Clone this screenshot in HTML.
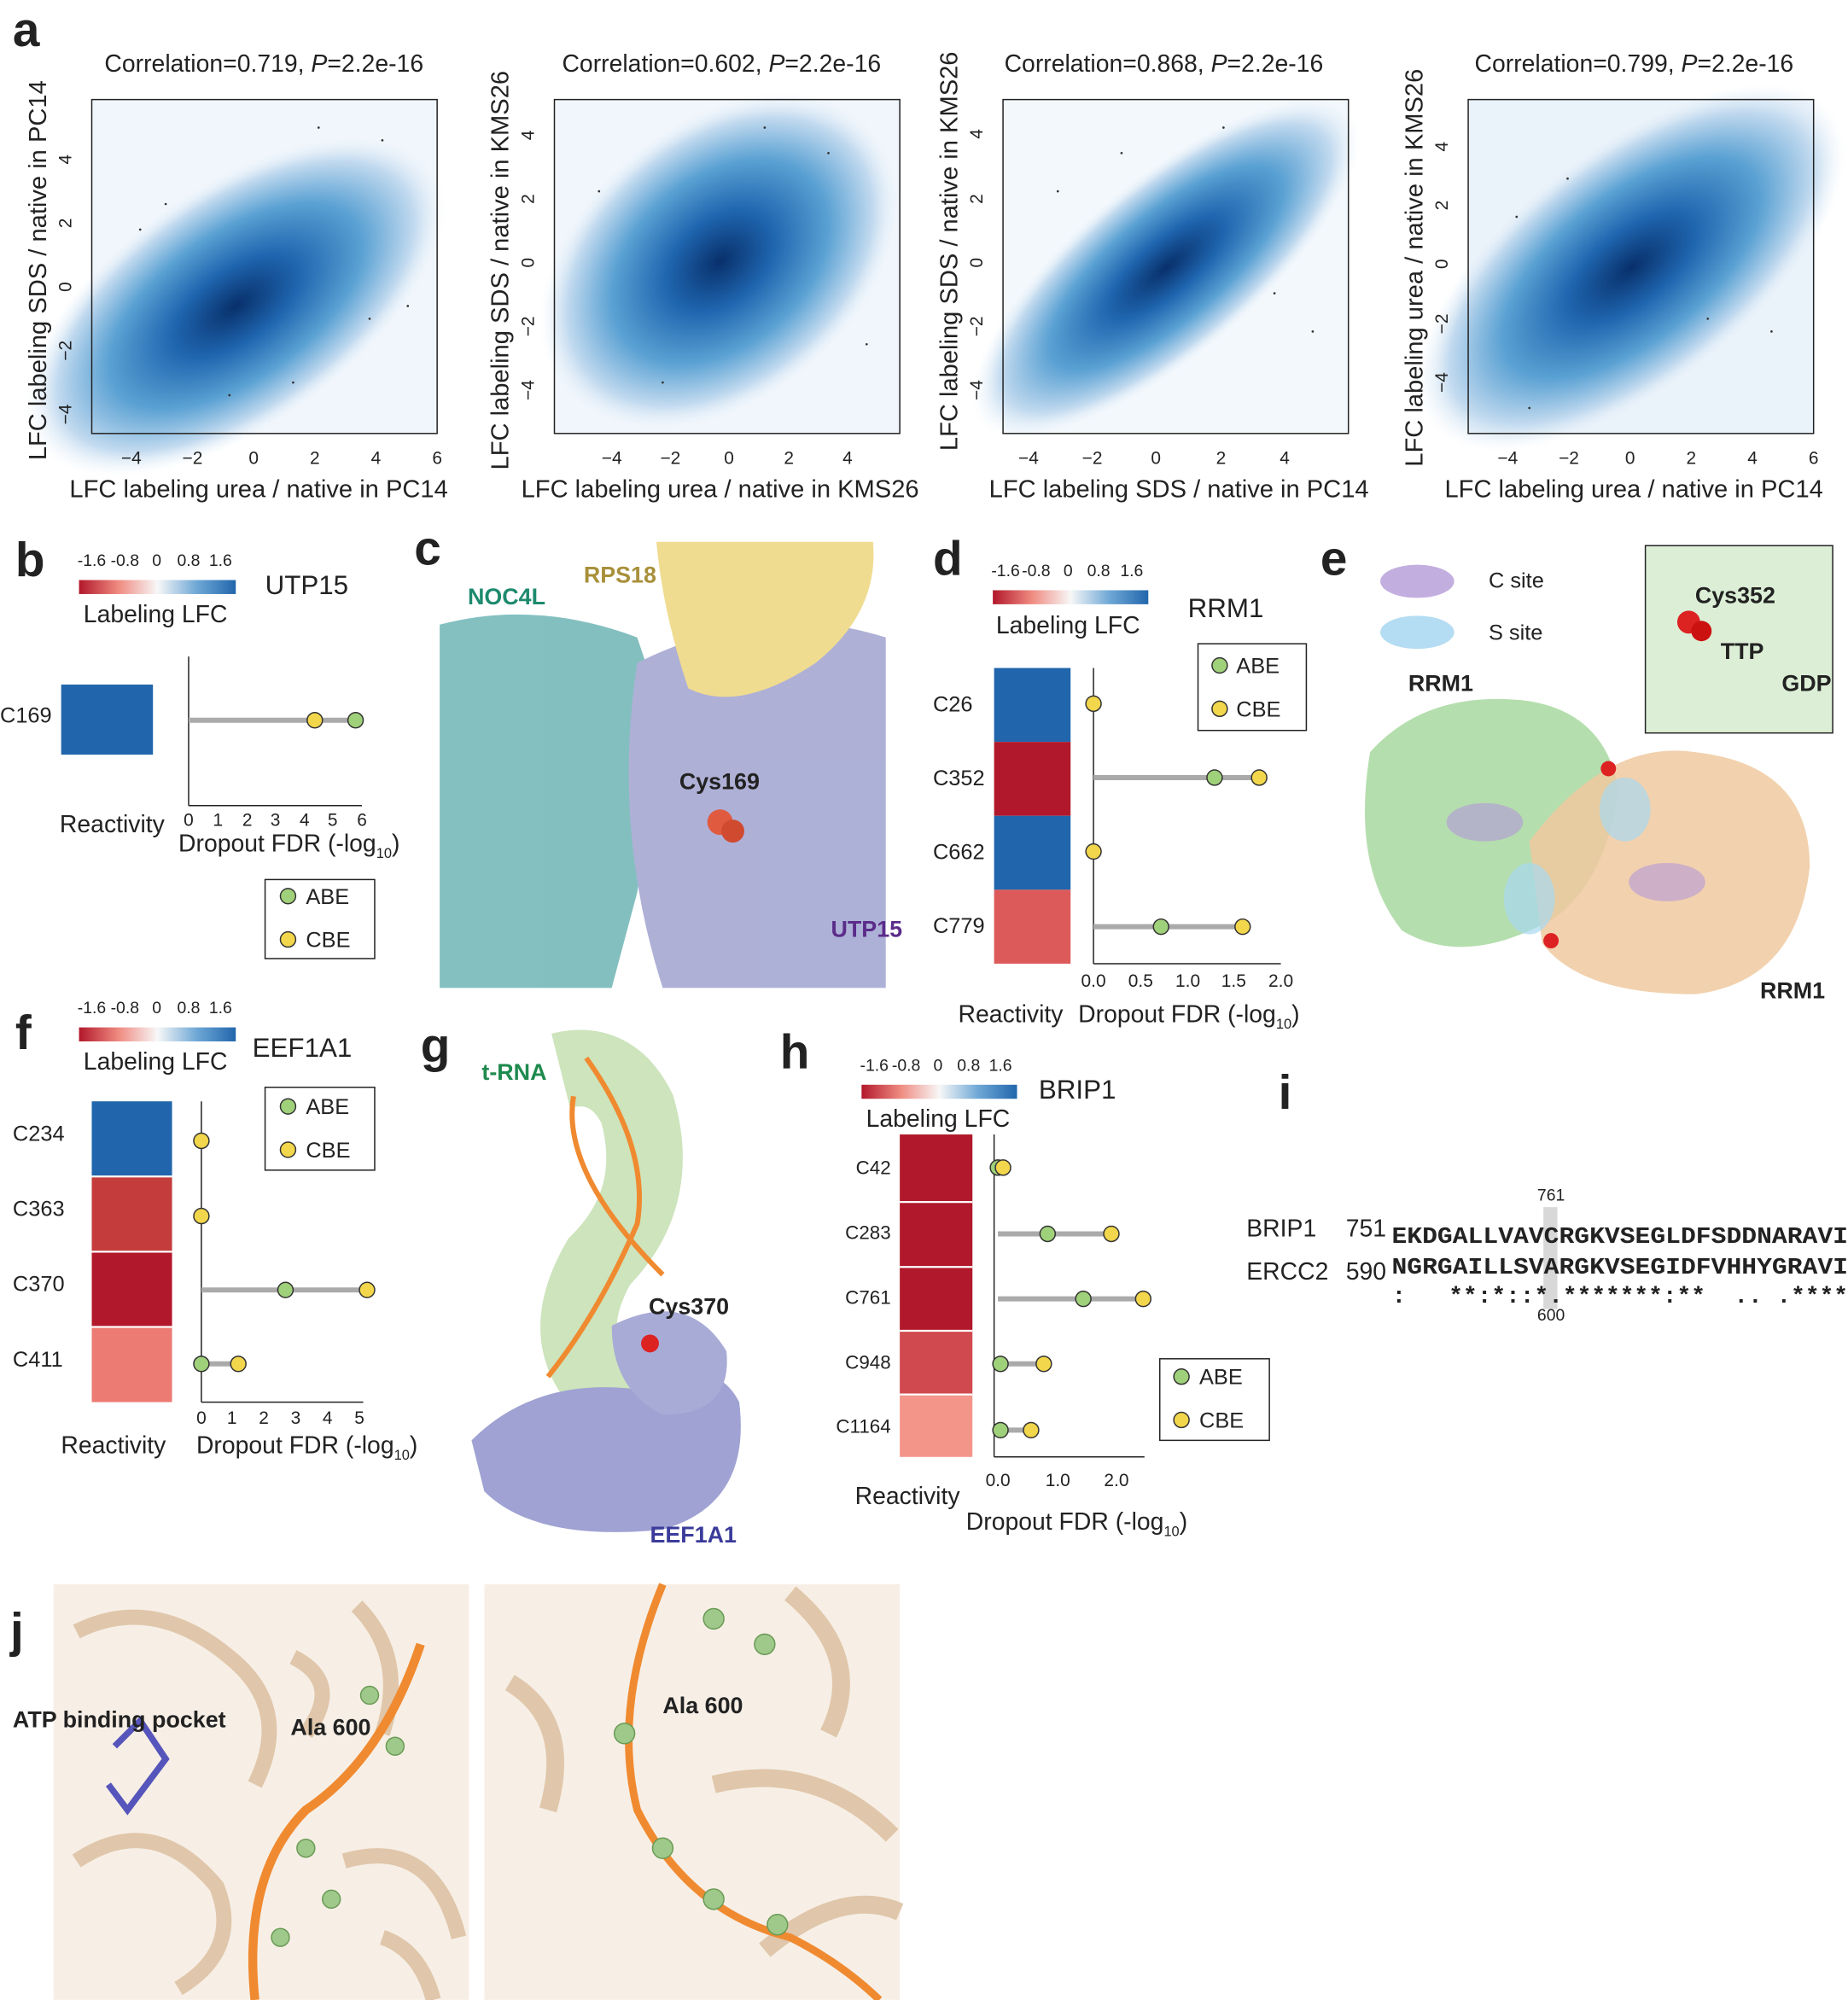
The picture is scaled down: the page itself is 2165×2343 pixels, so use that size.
<!DOCTYPE html>
<html><head><meta charset="utf-8"><style>
html,body{margin:0;padding:0;background:#fff;}
svg{display:block;}
text{font-family:"Liberation Sans",sans-serif;fill:#222;}
</style></head><body>
<svg width="2165" height="2343" viewBox="0 0 1450 1569" xmlns="http://www.w3.org/2000/svg">
<defs>
<radialGradient id="dens"><stop offset="0" stop-color="#08306b"/><stop offset="0.3" stop-color="#1f66b0"/><stop offset="0.6" stop-color="#5aa1d3"/><stop offset="0.85" stop-color="#c2daef"/><stop offset="1" stop-color="#eef5fb" stop-opacity="0"/></radialGradient>
<linearGradient id="cbar"><stop offset="0" stop-color="#b2182b"/><stop offset="0.25" stop-color="#ef8a80"/><stop offset="0.5" stop-color="#f7f7f7"/><stop offset="0.75" stop-color="#6fa8d6"/><stop offset="1" stop-color="#2166ac"/></linearGradient>
</defs>

<text x="10" y="36" font-size="38" font-weight="bold">a</text>
<g font-size="19">
<text x="82" y="56">Correlation=0.719, <tspan font-style="italic">P</tspan>=2.2e-16</text>
<text x="441" y="56">Correlation=0.602, <tspan font-style="italic">P</tspan>=2.2e-16</text>
<text x="788" y="56">Correlation=0.868, <tspan font-style="italic">P</tspan>=2.2e-16</text>
<text x="1157" y="56">Correlation=0.799, <tspan font-style="italic">P</tspan>=2.2e-16</text>
</g>
<g>
<rect x="72" y="78" width="271" height="262" fill="#f1f6fc"/>
<ellipse cx="185" cy="240" rx="190" ry="95" transform="rotate(-35 185 240)" fill="url(#dens)"/>
<rect x="72" y="78" width="271" height="262" fill="none" stroke="#222"/>
</g>
<g>
<rect x="435" y="78" width="271" height="262" fill="#f1f6fc"/>
<ellipse cx="565" cy="205" rx="160" ry="110" transform="rotate(-40 565 205)" fill="url(#dens)"/>
<rect x="435" y="78" width="271" height="262" fill="none" stroke="#222"/>
</g>
<g>
<rect x="787" y="78" width="271" height="262" fill="#f3f8fc"/>
<ellipse cx="915" cy="210" rx="190" ry="70" transform="rotate(-40 915 210)" fill="url(#dens)"/>
<rect x="787" y="78" width="271" height="262" fill="none" stroke="#222"/>
</g>
<g>
<rect x="1152" y="78" width="271" height="262" fill="#eaf2fa"/>
<ellipse cx="1280" cy="210" rx="200" ry="95" transform="rotate(-38 1280 210)" fill="url(#dens)"/>
<rect x="1152" y="78" width="271" height="262" fill="none" stroke="#222"/>
</g>
<g fill="#333">
<circle cx="110" cy="180" r="0.9"/><circle cx="130" cy="160" r="0.9"/><circle cx="250" cy="100" r="0.9"/><circle cx="300" cy="110" r="0.9"/><circle cx="290" cy="250" r="0.9"/><circle cx="320" cy="240" r="0.9"/><circle cx="180" cy="310" r="0.9"/><circle cx="230" cy="300" r="0.9"/>
<circle cx="470" cy="150" r="0.9"/><circle cx="600" cy="100" r="0.9"/><circle cx="650" cy="120" r="0.9"/><circle cx="520" cy="300" r="0.9"/><circle cx="680" cy="270" r="0.9"/>
<circle cx="830" cy="150" r="0.9"/><circle cx="880" cy="120" r="0.9"/><circle cx="1000" cy="230" r="0.9"/><circle cx="1030" cy="260" r="0.9"/><circle cx="960" cy="100" r="0.9"/>
<circle cx="1190" cy="170" r="0.9"/><circle cx="1230" cy="140" r="0.9"/><circle cx="1340" cy="250" r="0.9"/><circle cx="1390" cy="260" r="0.9"/><circle cx="1200" cy="320" r="0.9"/>
</g>
<g font-size="14" text-anchor="middle">
<text x="103" y="364">−4</text><text x="151" y="364">−2</text><text x="199" y="364">0</text><text x="247" y="364">2</text><text x="295" y="364">4</text><text x="343" y="364">6</text>
<text x="480" y="364">−4</text><text x="526" y="364">−2</text><text x="572" y="364">0</text><text x="619" y="364">2</text><text x="665" y="364">4</text>
<text x="807" y="364">−4</text><text x="857" y="364">−2</text><text x="907" y="364">0</text><text x="958" y="364">2</text><text x="1008" y="364">4</text>
<text x="1183" y="364">−4</text><text x="1231" y="364">−2</text><text x="1279" y="364">0</text><text x="1327" y="364">2</text><text x="1375" y="364">4</text><text x="1423" y="364">6</text>
</g>
<g font-size="14" text-anchor="middle">
<text transform="translate(56,125) rotate(-90)">4</text><text transform="translate(56,175) rotate(-90)">2</text><text transform="translate(56,225) rotate(-90)">0</text><text transform="translate(56,275) rotate(-90)">−2</text><text transform="translate(56,325) rotate(-90)">−4</text>
<text transform="translate(419,106) rotate(-90)">4</text><text transform="translate(419,156) rotate(-90)">2</text><text transform="translate(419,206) rotate(-90)">0</text><text transform="translate(419,256) rotate(-90)">−2</text><text transform="translate(419,306) rotate(-90)">−4</text>
<text transform="translate(771,105) rotate(-90)">4</text><text transform="translate(771,156) rotate(-90)">2</text><text transform="translate(771,206) rotate(-90)">0</text><text transform="translate(771,256) rotate(-90)">−2</text><text transform="translate(771,306) rotate(-90)">−4</text>
<text transform="translate(1136,115) rotate(-90)">4</text><text transform="translate(1136,161) rotate(-90)">2</text><text transform="translate(1136,207) rotate(-90)">0</text><text transform="translate(1136,254) rotate(-90)">−2</text><text transform="translate(1136,300) rotate(-90)">−4</text>
</g>
<g font-size="19.5" text-anchor="middle">
<text x="203" y="390">LFC labeling urea / native in PC14</text>
<text x="565" y="390">LFC labeling urea / native in KMS26</text>
<text x="925" y="390">LFC labeling SDS / native in PC14</text>
<text x="1282" y="390">LFC labeling urea / native in PC14</text>
<text transform="translate(36,212) rotate(-90)">LFC  labeling SDS / native in PC14</text>
<text transform="translate(399,212) rotate(-90)">LFC  labeling SDS / native in KMS26</text>
<text transform="translate(751,197) rotate(-90)">LFC  labeling SDS / native in KMS26</text>
<text transform="translate(1116,210) rotate(-90)">LFC labeling urea / native in KMS26</text>
</g>

<!-- Panel b -->
<text x="12" y="452" font-size="38" font-weight="bold">b</text>
<g font-size="13" text-anchor="middle"><text x="72" y="444">-1.6</text><text x="98" y="444">-0.8</text><text x="123" y="444">0</text><text x="148" y="444">0.8</text><text x="173" y="444">1.6</text></g>
<rect x="62" y="455" width="123" height="11" fill="url(#cbar)"/>
<text x="122" y="488" font-size="19" text-anchor="middle">Labeling LFC</text>
<text x="208" y="466" font-size="21">UTP15</text>
<text x="0" y="567" font-size="17">C169</text>
<rect x="48" y="537" width="72" height="55" fill="#2166ac"/>
<line x1="148" y1="515" x2="148" y2="632" stroke="#222"/><line x1="148" y1="632" x2="284" y2="632" stroke="#222"/>
<g font-size="14" text-anchor="middle"><text x="148" y="648">0</text><text x="171" y="648">1</text><text x="194" y="648">2</text><text x="216" y="648">3</text><text x="239" y="648">4</text><text x="261" y="648">5</text><text x="284" y="648">6</text></g>
<line x1="148" y1="565" x2="279" y2="565" stroke="#aaa" stroke-width="4"/>
<circle cx="247" cy="565" r="6" fill="#f2d64b" stroke="#333"/><circle cx="279" cy="565" r="6" fill="#9fd07a" stroke="#333"/>
<text x="88" y="653" font-size="19" text-anchor="middle">Reactivity</text>
<text x="140" y="668" font-size="19">Dropout FDR (-log<tspan font-size="11" dy="5">10</tspan><tspan dy="-5">)</tspan></text>
<rect x="208" y="690" width="86" height="62" fill="#fff" stroke="#222"/>
<circle cx="226" cy="703" r="6" fill="#9fd07a" stroke="#333"/><text x="240" y="709" font-size="17">ABE</text>
<circle cx="226" cy="737" r="6" fill="#f2d64b" stroke="#333"/><text x="240" y="743" font-size="17">CBE</text>

<!-- Panel c -->
<text x="325" y="443" font-size="38" font-weight="bold">c</text>
<g opacity="0.85">
<path d="M345 490 Q420 470 500 500 L520 560 L500 700 L480 775 L345 775 Z" fill="#6fb5b5"/>
<path d="M500 520 Q600 470 695 500 L695 775 L520 775 Q480 650 500 520 Z" fill="#a0a3d0"/>
<path d="M515 425 L685 425 Q690 480 640 520 Q580 560 540 540 Q520 480 515 425 Z" fill="#eed67e"/>
</g>
<circle cx="565" cy="645" r="10" fill="#e05a40"/><circle cx="575" cy="652" r="9" fill="#d04a30"/>
<text x="367" y="474" font-size="18" font-weight="bold" style="fill:#1e8a6e">NOC4L</text>
<text x="458" y="457" font-size="18" font-weight="bold" style="fill:#a8903a">RPS18</text>
<text x="533" y="619" font-size="18" font-weight="bold">Cys169</text>
<text x="652" y="735" font-size="18" font-weight="bold" style="fill:#5b2c8a">UTP15</text>

<!-- Panel d -->
<text x="732" y="451" font-size="38" font-weight="bold">d</text>
<g font-size="13" text-anchor="middle"><text x="789" y="452">-1.6</text><text x="813" y="452">-0.8</text><text x="838" y="452">0</text><text x="862" y="452">0.8</text><text x="888" y="452">1.6</text></g>
<rect x="779" y="463" width="122" height="11" fill="url(#cbar)"/>
<text x="838" y="497" font-size="19" text-anchor="middle">Labeling LFC</text>
<text x="932" y="484" font-size="21">RRM1</text>
<rect x="780" y="524" width="60" height="58" fill="#2166ac"/>
<rect x="780" y="582" width="60" height="58" fill="#b2182b"/>
<rect x="780" y="640" width="60" height="58" fill="#2166ac"/>
<rect x="780" y="698" width="60" height="58" fill="#dd5a5a"/>
<g font-size="17"><text x="732" y="558">C26</text><text x="732" y="616">C352</text><text x="732" y="674">C662</text><text x="732" y="732">C779</text></g>
<line x1="858" y1="524" x2="858" y2="756" stroke="#222"/><line x1="858" y1="756" x2="1005" y2="756" stroke="#222"/>
<g font-size="14" text-anchor="middle"><text x="858" y="774">0.0</text><text x="895" y="774">0.5</text><text x="932" y="774">1.0</text><text x="968" y="774">1.5</text><text x="1005" y="774">2.0</text></g>
<line x1="858" y1="610" x2="988" y2="610" stroke="#aaa" stroke-width="4"/>
<line x1="858" y1="727" x2="975" y2="727" stroke="#aaa" stroke-width="4"/>
<circle cx="858" cy="552" r="6" fill="#f2d64b" stroke="#333"/>
<circle cx="953" cy="610" r="6" fill="#9fd07a" stroke="#333"/><circle cx="988" cy="610" r="6" fill="#f2d64b" stroke="#333"/>
<circle cx="858" cy="668" r="6" fill="#f2d64b" stroke="#333"/>
<circle cx="911" cy="727" r="6" fill="#9fd07a" stroke="#333"/><circle cx="975" cy="727" r="6" fill="#f2d64b" stroke="#333"/>
<text x="793" y="802" font-size="19" text-anchor="middle">Reactivity</text>
<text x="846" y="802" font-size="19">Dropout FDR (-log<tspan font-size="11" dy="5">10</tspan><tspan dy="-5">)</tspan></text>
<rect x="940" y="505" width="85" height="68" fill="#fff" stroke="#222"/>
<circle cx="957" cy="522" r="6" fill="#9fd07a" stroke="#333"/><text x="970" y="528" font-size="17">ABE</text>
<circle cx="957" cy="556" r="6" fill="#f2d64b" stroke="#333"/><text x="970" y="562" font-size="17">CBE</text>

<!-- Panel e -->
<text x="1036" y="451" font-size="38" font-weight="bold">e</text>
<ellipse cx="1112" cy="456" rx="29" ry="13" fill="#c3aee0"/><text x="1168" y="461" font-size="17">C site</text>
<ellipse cx="1112" cy="496" rx="29" ry="13" fill="#b4dcf2"/><text x="1168" y="502" font-size="17">S site</text>
<text x="1105" y="542" font-size="18" font-weight="bold">RRM1</text>
<path d="M1075 590 Q1120 540 1200 550 Q1260 560 1270 620 Q1260 690 1220 720 Q1150 760 1100 730 Q1060 680 1075 590 Z" fill="#a8d8a0" opacity="0.85"/>
<path d="M1200 660 Q1260 580 1330 590 Q1420 600 1420 680 Q1410 770 1330 780 Q1240 780 1210 740 Z" fill="#f0c9a0" opacity="0.85"/>
<ellipse cx="1165" cy="645" rx="30" ry="15" fill="#b497d8" opacity="0.6"/>
<ellipse cx="1308" cy="692" rx="30" ry="15" fill="#b497d8" opacity="0.6"/>
<ellipse cx="1275" cy="635" rx="20" ry="25" fill="#a8d8f0" opacity="0.7"/>
<ellipse cx="1200" cy="705" rx="20" ry="28" fill="#a8d8f0" opacity="0.7"/>
<circle cx="1262" cy="603" r="6" fill="#d22"/><circle cx="1217" cy="738" r="6" fill="#d22"/>
<text x="1381" y="783" font-size="18" font-weight="bold">RRM1</text>
<rect x="1291" y="428" width="147" height="147" fill="#dcefd6" stroke="#222"/>
<circle cx="1325" cy="488" r="9" fill="#d22"/><circle cx="1335" cy="495" r="8" fill="#c11"/>
<text x="1330" y="473" font-size="18" font-weight="bold">Cys352</text>
<text x="1350" y="517" font-size="18" font-weight="bold">TTP</text>
<text x="1398" y="542" font-size="18" font-weight="bold">GDP</text>

<!-- Panel f -->
<text x="12" y="823" font-size="38" font-weight="bold">f</text>
<g font-size="13" text-anchor="middle"><text x="72" y="795">-1.6</text><text x="98" y="795">-0.8</text><text x="123" y="795">0</text><text x="148" y="795">0.8</text><text x="173" y="795">1.6</text></g>
<rect x="62" y="806" width="123" height="11" fill="url(#cbar)"/>
<text x="122" y="839" font-size="19" text-anchor="middle">Labeling LFC</text>
<text x="198" y="829" font-size="21">EEF1A1</text>
<rect x="72" y="864" width="63" height="59" fill="#2166ac"/>
<rect x="72" y="923" width="63" height="59" fill="#c43c3c"/>
<rect x="72" y="982" width="63" height="59" fill="#b2182b"/>
<rect x="72" y="1041" width="63" height="59" fill="#ec7b73"/>
<g stroke="#fff" stroke-width="1.5"><line x1="72" y1="923" x2="135" y2="923"/><line x1="72" y1="982" x2="135" y2="982"/><line x1="72" y1="1041" x2="135" y2="1041"/></g>
<g font-size="17"><text x="10" y="895">C234</text><text x="10" y="954">C363</text><text x="10" y="1013">C370</text><text x="10" y="1072">C411</text></g>
<line x1="158" y1="864" x2="158" y2="1100" stroke="#222"/><line x1="158" y1="1100" x2="285" y2="1100" stroke="#222"/>
<g font-size="14" text-anchor="middle"><text x="158" y="1117">0</text><text x="182" y="1117">1</text><text x="207" y="1117">2</text><text x="232" y="1117">3</text><text x="257" y="1117">4</text><text x="282" y="1117">5</text></g>
<line x1="158" y1="1012" x2="288" y2="1012" stroke="#aaa" stroke-width="4"/>
<line x1="158" y1="1070" x2="187" y2="1070" stroke="#aaa" stroke-width="4"/>
<circle cx="158" cy="895" r="6" fill="#f2d64b" stroke="#333"/>
<circle cx="158" cy="954" r="6" fill="#f2d64b" stroke="#333"/>
<circle cx="224" cy="1012" r="6" fill="#9fd07a" stroke="#333"/><circle cx="288" cy="1012" r="6" fill="#f2d64b" stroke="#333"/>
<circle cx="158" cy="1070" r="6" fill="#9fd07a" stroke="#333"/><circle cx="187" cy="1070" r="6" fill="#f2d64b" stroke="#333"/>
<text x="89" y="1140" font-size="19" text-anchor="middle">Reactivity</text>
<text x="154" y="1140" font-size="19">Dropout FDR (-log<tspan font-size="11" dy="5">10</tspan><tspan dy="-5">)</tspan></text>
<rect x="208" y="853" width="86" height="65" fill="#fff" stroke="#222"/>
<circle cx="226" cy="868" r="6" fill="#9fd07a" stroke="#333"/><text x="240" y="874" font-size="17">ABE</text>
<circle cx="226" cy="902" r="6" fill="#f2d64b" stroke="#333"/><text x="240" y="908" font-size="17">CBE</text>

<!-- Panel g -->
<text x="330" y="833" font-size="38" font-weight="bold">g</text>
<text x="378" y="847" font-size="18" font-weight="bold" style="fill:#1e8a4e">t-RNA</text>
<path d="M440 840 Q480 830 500 870 Q520 940 470 990 Q430 1060 490 1100" fill="none" stroke="#b8d8a0" stroke-width="60" opacity="0.7"/>
<path d="M460 830 Q510 900 500 960 Q470 1030 430 1080 M450 860 Q440 920 520 1000" fill="none" stroke="#f08a30" stroke-width="4"/>
<path d="M370 1130 Q420 1080 500 1090 Q560 1060 580 1100 Q590 1180 520 1200 Q420 1210 380 1170 Z" fill="#9fa2d2"/>
<path d="M480 1040 Q540 1010 570 1060 Q575 1110 520 1110 Q480 1090 480 1040 Z" fill="#a8abd6"/>
<circle cx="510" cy="1054" r="7" fill="#d22"/>
<text x="509" y="1031" font-size="18" font-weight="bold">Cys370</text>
<text x="510" y="1210" font-size="18" font-weight="bold" style="fill:#3b3b9b">EEF1A1</text>

<!-- Panel h -->
<text x="612" y="838" font-size="38" font-weight="bold">h</text>
<g font-size="13" text-anchor="middle"><text x="686" y="840">-1.6</text><text x="711" y="840">-0.8</text><text x="736" y="840">0</text><text x="760" y="840">0.8</text><text x="785" y="840">1.6</text></g>
<rect x="676" y="851" width="122" height="11" fill="url(#cbar)"/>
<text x="736" y="884" font-size="19" text-anchor="middle">Labeling LFC</text>
<text x="815" y="862" font-size="21">BRIP1</text>
<rect x="706" y="890" width="57" height="104" fill="#b2182b"/>
<rect x="706" y="994" width="57" height="50" fill="#b2182b"/>
<rect x="706" y="1044" width="57" height="50" fill="#d0494f"/>
<rect x="706" y="1094" width="57" height="49" fill="#f4958a"/>
<g stroke="#fff" stroke-width="1.5"><line x1="706" y1="943" x2="763" y2="943"/><line x1="706" y1="994" x2="763" y2="994"/><line x1="706" y1="1044" x2="763" y2="1044"/><line x1="706" y1="1094" x2="763" y2="1094"/></g>
<g font-size="15" text-anchor="end"><text x="699" y="921">C42</text><text x="699" y="972">C283</text><text x="699" y="1023">C761</text><text x="699" y="1074">C948</text><text x="699" y="1124">C1164</text></g>
<line x1="780" y1="890" x2="780" y2="1143" stroke="#222"/><line x1="780" y1="1143" x2="898" y2="1143" stroke="#222"/>
<g font-size="14" text-anchor="middle"><text x="783" y="1166">0.0</text><text x="830" y="1166">1.0</text><text x="876" y="1166">2.0</text></g>
<line x1="783" y1="968" x2="872" y2="968" stroke="#aaa" stroke-width="4"/>
<line x1="783" y1="1019" x2="897" y2="1019" stroke="#aaa" stroke-width="4"/>
<line x1="783" y1="1070" x2="819" y2="1070" stroke="#aaa" stroke-width="4"/>
<line x1="783" y1="1122" x2="809" y2="1122" stroke="#aaa" stroke-width="4"/>
<circle cx="783" cy="916" r="6" fill="#9fd07a" stroke="#333"/><circle cx="787" cy="916" r="6" fill="#f2d64b" stroke="#333"/>
<circle cx="822" cy="968" r="6" fill="#9fd07a" stroke="#333"/><circle cx="872" cy="968" r="6" fill="#f2d64b" stroke="#333"/>
<circle cx="850" cy="1019" r="6" fill="#9fd07a" stroke="#333"/><circle cx="897" cy="1019" r="6" fill="#f2d64b" stroke="#333"/>
<circle cx="785" cy="1070" r="6" fill="#9fd07a" stroke="#333"/><circle cx="819" cy="1070" r="6" fill="#f2d64b" stroke="#333"/>
<circle cx="785" cy="1122" r="6" fill="#9fd07a" stroke="#333"/><circle cx="809" cy="1122" r="6" fill="#f2d64b" stroke="#333"/>
<text x="712" y="1180" font-size="19" text-anchor="middle">Reactivity</text>
<text x="758" y="1200" font-size="19">Dropout FDR (-log<tspan font-size="11" dy="5">10</tspan><tspan dy="-5">)</tspan></text>
<rect x="910" y="1066" width="86" height="64" fill="#fff" stroke="#222"/>
<circle cx="927" cy="1080" r="6" fill="#9fd07a" stroke="#333"/><text x="941" y="1086" font-size="17">ABE</text>
<circle cx="927" cy="1114" r="6" fill="#f2d64b" stroke="#333"/><text x="941" y="1120" font-size="17">CBE</text>

<!-- Panel i -->
<text x="1003" y="870" font-size="38" font-weight="bold">i</text>
<rect x="1211" y="947" width="11" height="80" fill="#d8d8d8"/>
<text x="1217" y="942" font-size="13" text-anchor="middle">761</text>
<text x="1217" y="1036" font-size="13" text-anchor="middle">600</text>
<text x="978" y="970" font-size="19">BRIP1</text><text x="1056" y="970" font-size="19">751</text>
<text x="978" y="1004" font-size="19">ERCC2</text><text x="1056" y="1004" font-size="19">590</text>
<text x="1092" y="975" font-size="18" font-weight="bold" style="font-family:'Liberation Mono',monospace" textLength="358" lengthAdjust="spacingAndGlyphs">EKDGALLVAVCRGKVSEGLDFSDDNARAVI</text>
<text x="1092" y="999" font-size="18" font-weight="bold" style="font-family:'Liberation Mono',monospace" textLength="358" lengthAdjust="spacingAndGlyphs">NGRGAILLSVARGKVSEGIDFVHHYGRAVI</text>
<text x="1092" y="1022" font-size="18" font-weight="bold" style="font-family:'Liberation Mono',monospace;white-space:pre" xml:space="preserve" textLength="358" lengthAdjust="spacingAndGlyphs">:   **:*::*.*******:**  .. .****</text>

<!-- Panel j -->
<text x="8" y="1292" font-size="38" font-weight="bold">j</text>
<rect x="42" y="1243" width="326" height="326" fill="#f7efe6"/>
<g fill="none" stroke="#dcc0a0" stroke-width="12" opacity="0.85">
<path d="M60 1280 Q120 1250 180 1300 Q230 1340 200 1400"/>
<path d="M280 1260 Q320 1300 300 1360"/>
<path d="M60 1460 Q120 1420 170 1480 Q190 1530 140 1560"/>
<path d="M270 1460 Q340 1440 360 1520"/>
<path d="M230 1300 Q270 1320 240 1360"/>
<path d="M300 1520 Q330 1530 340 1569"/>
</g>
<path d="M90 1370 L110 1350 L130 1380 L100 1420 L85 1400" fill="none" stroke="#5555bb" stroke-width="5"/>
<path d="M330 1290 Q300 1380 240 1420 Q190 1470 200 1569" fill="none" stroke="#f08a30" stroke-width="7"/>
<g fill="#9fc98a" stroke="#6a9a55"><circle cx="290" cy="1330" r="7"/><circle cx="310" cy="1370" r="7"/><circle cx="240" cy="1450" r="7"/><circle cx="220" cy="1520" r="7"/><circle cx="260" cy="1490" r="7"/></g>
<text x="10" y="1355" font-size="18" font-weight="bold">ATP binding pocket</text>
<text x="228" y="1361" font-size="18" font-weight="bold">Ala 600</text>

<rect x="380" y="1243" width="326" height="326" fill="#f7efe6"/>
<g fill="none" stroke="#dcc0a0" stroke-width="14" opacity="0.85">
<path d="M620 1250 Q680 1300 650 1360"/>
<path d="M560 1400 Q640 1380 700 1440"/>
<path d="M400 1320 Q450 1350 430 1420"/>
<path d="M600 1530 Q660 1480 706 1500"/>
</g>
<path d="M520 1243 Q480 1340 500 1420 Q540 1500 620 1520 Q660 1540 690 1569" fill="none" stroke="#f08a30" stroke-width="6"/>
<g fill="#9fc98a" stroke="#6a9a55"><circle cx="560" cy="1270" r="8"/><circle cx="600" cy="1290" r="8"/><circle cx="490" cy="1360" r="8"/><circle cx="520" cy="1450" r="8"/><circle cx="560" cy="1490" r="8"/><circle cx="610" cy="1510" r="8"/></g>
<text x="520" y="1344" font-size="18" font-weight="bold">Ala 600</text>
</svg>
</body></html>
